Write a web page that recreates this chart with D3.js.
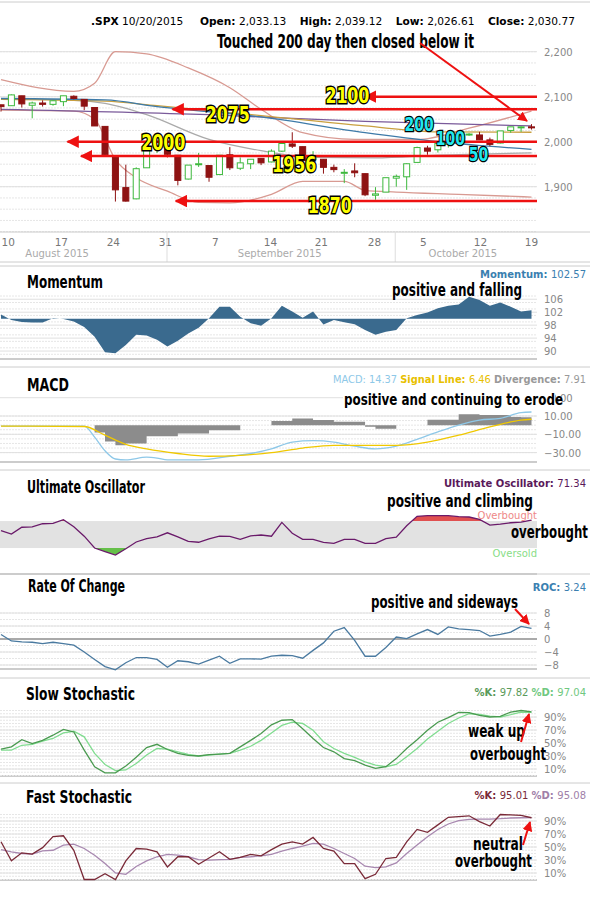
<!DOCTYPE html>
<html><head><meta charset="utf-8">
<script src="https://cdn.jsdelivr.net/npm/d3@7"></script>
<style>
body{margin:0;background:#fff}
text{font-family:"DejaVu Sans",sans-serif}
.big{font-family:"Liberation Sans Narrow","DejaVu Sans Condensed",sans-serif;font-weight:bold}
</style></head>
<body><svg id="chart" width="590" height="900"></svg>
<script>
// ---- data (trading days, index 0 = Aug 7 2015 ... 51 = Oct 20 2015) ----
let opens  = [2082,2080,2102,2081,2086,2083,2089,2101,2094,2076,2034,1965,1898,1873,1942,1987,1986,1970,1917,1950,1947,1927,1971,1941,1951,1963,1955,1979,1995,1989,1960,1961,1943,1932,1935,1929,1881,1888,1919,1922,1954,1986,1982,1994,2014,2015,2015,2004,1997,2025,2031,2033];
let highs  = [2082,2105,2102,2089,2092,2092,2102,2103,2094,2076,2034,1965,1949,1943,1989,1993,1987,1970,1948,1975,1947,1970,1988,1965,1961,1963,1983,1997,2021,1989,1979,1961,1949,1939,1952,1929,1899,1920,1927,1952,1989,1991,1999,2016,2020,2019,2022,2009,2024,2033,2034,2039];
let lows   = [2067,2080,2076,2052,2078,2080,2079,2094,2070,2035,1970,1867,1867,1872,1942,1975,1965,1903,1916,1944,1911,1927,1937,1937,1939,1948,1954,1977,1986,1953,1955,1929,1932,1908,1921,1879,1871,1888,1900,1893,1954,1971,1976,1987,2007,2013,2004,1990,1996,2020,2022,2027];
let closes = [2078,2104,2084,2086,2083,2091,2102,2096,2079,2035,1971,1893,1868,1940,1988,1989,1972,1914,1948,1951,1921,1970,1942,1953,1961,1953,1979,1996,1990,1958,1966,1943,1938,1932,1931,1882,1884,1920,1923,1951,1987,1979,1996,2014,2015,2017,2004,1994,2024,2033,2033,2031];

// overlays: [day index, value]
let bbUpper = [[0,2138],[7,2112],[9,2130],[11,2200],[14,2195],[18,2164],[22,2120],[25,2072],[29,2020],[34,2005],[40,2005],[45,2030],[51,2068]];
let bbLower = [[0,2070],[7,2068],[9,2050],[11,1960],[13,1920],[16,1890],[19,1865],[22,1864],[26,1883],[29,1912],[33,1912],[35,1892],[38,1888],[44,1883],[51,1877]];
let sma20   = [[0,2095],[7,2092],[10,2085],[14,2060],[20,2005],[25,1980],[30,1965],[36,1964],[42,1970],[51,1975]];
let sma200  = [[0,2072],[20,2060],[35,2045],[51,2035]];
let sma100  = [[0,2094],[10,2090],[15,2080],[25,2058],[35,2035],[42,2022],[51,2021]];
let sma50   = [[0,2096],[10,2093],[15,2078],[25,2055],[35,2020],[42,2000],[51,1983]];

let levels      = [2100, 2072, 2000, 1968, 1868];
let levelLabels = ["2100","2075","2000","1956","1870"];
let levelStart  = [35, 16.5, 6.4, 7.7, 16.8];
let levelLabelAt = [[33.3,2103],[21.8,2062],[15.6,2000],[28.2,1950],[31.6,1860]];
let maLabels    = [["200",40.2,2040],["100",43.2,2008],["50",45.9,1973]];

let priceTicks = [2200, 2100, 2000, 1900];
let tickDays   = [0.7,5.8,10.8,15.8,20.6,25.9,30.8,35.9,40.6,46.1,51];
let tickLabels = ["10","17","24","31","7","14","21","28","5","12","19"];
let monthDays  = [5.4, 26.8, 44.4];
let monthLabels = ["August 2015","September 2015","October 2015"];
let monthSeps  = [15.96, 37.9];

let momentum = [101.3,99.6,99,98.8,98.8,100.1,99.9,99.1,97.4,94.4,89.6,89.3,91.9,95,94.8,93.5,91.4,93.2,95.4,97.2,100.1,103.7,103.7,100.6,98.6,97.8,100.1,104,102.2,100.3,102.2,98.2,99.6,98.9,98.3,96.5,95,96,96.5,100.1,101.1,101.9,103.2,104,104.4,106.8,105.8,104,105,103.7,102.2,102.57];
let macdLine = [[0,-1],[8,-1],[9,-13],[10,-28],[11,-37],[12,-38],[14,-35],[15,-36],[16,-38],[19,-38],[22,-34],[24,-31],[26,-26],[28,-18.5],[30,-17],[32,-18.5],[34,-23],[36,-26],[38,-23],[40,-15.5],[42,-7.4],[44,0],[46,5.5],[48,7.4],[50,13.7],[51,14.37]];
let signalLine = [[0,-1],[8,-1.5],[10,-11],[12,-21],[14,-26],[17,-31],[20,-34],[23,-33],[26,-30],[29,-25],[32,-22],[35,-22],[38,-22],[41,-18.5],[44,-11],[47,-2],[50,5.5],[51,6.46]];
let divergence = [[0,0],[8,0],[9,-8],[10,-18],[11,-22],[12,-20],[14,-12],[17,-9],[20,-5.5],[23,0],[26,4.4],[28,7.4],[30,5.5],[32,3.7],[35,-1.8],[36,-4],[38,0],[41,6],[44,12],[46,11],[49,9],[50,8.5],[51,7.91]];
let ultimate = [55.7,50.7,60.8,61.5,66,66.7,72,61.5,47.6,30,24.8,19.7,29,39,44,46.5,52.6,46.5,40,38.6,43.5,47.5,47.2,43,48,49.3,47.5,68,52,43,43,38.5,37,43,43,37,37,44,46,63,77,78,78,78,76.5,76,72.5,64,65.5,67.5,68.5,71.34];
let roc = [1.4,-0.6,-0.9,-1,-1.4,-1,-1.4,-1.9,-4,-6.3,-8.5,-9.5,-7.3,-5.7,-5.7,-6.3,-8.7,-6.7,-7,-7.7,-6.5,-5.3,-7.5,-6.1,-6.1,-6.2,-5.3,-5,-5.1,-5.9,-3.5,-1.2,2.4,3.5,-0.4,-5.3,-5.3,-2.6,0.6,0.1,1.6,2.9,1.4,3.7,3.1,2.9,2.6,0.9,1.4,2.1,3.9,3.24];
let slowK = [40.5,44,55,49,54,62,71,67,39,13.5,4,4,14.5,28,43,48,40,34,31,30,32,33,34,44,54,64.5,78,85,86,72,57,43,36.5,26,23,16,11,13.5,26,41.5,55,69.5,82,89,97,96.6,92.5,90,91,97.6,100,97.82];
let slowD = [39,39,46.5,48,53,57,65.5,68,59.5,34,17,7.5,8.5,18.5,31.5,41.5,40.5,36.5,32.5,30,31.5,33,34,39,45,54,65.5,77,82,80,69.5,52,41.5,34,28,21,16,13.5,17,29,41.5,56,68,80,88.5,95,94,91.5,90,93.5,97.6,97.04];
let fastK = [58,28.7,41,39,49,66,67.3,45,0,0,9,0,28.7,47.7,46.7,42.6,19.4,35,35,23.5,33,42.6,31,34,38.5,36.4,46,54.4,58,54.4,64.7,47.7,43.6,24.5,24.5,1.3,8,32.3,34,58,77,72.5,84,95.7,96.7,98,89,82.3,100,99.5,98.5,95.01];
let fastD = [46,42.6,40,39,44,45,53,54.4,47.7,37.4,24.5,10,8,20,28.7,35,38.5,37.4,35,30.7,29.7,30.7,31,34,35,36.4,38.5,43.6,47.7,51.3,55.5,54.4,47.7,40,32.3,20.4,18.4,19.4,25.6,40,53,65.8,77,85.4,90.5,92.6,93,93,93.6,94.6,95,95.08];

// ---- layout ----
const plotR = 537;
const svg = d3.select("#chart");
const x = d3.scaleLinear().domain([0, 51]).range([1, 531.5]);

function hline(y, x0, x1, color, w) {
    svg.append("line").attr("x1", x0).attr("x2", x1).attr("y1", y).attr("y2", y)
        .attr("stroke", color).attr("stroke-width", w || 1);
}
// condensed bold text squeezed to the width it has in the picture
function bigText(t, px, py, size, w, anchor) {
    let el = svg.append("text").attr("class", "big").attr("x", px).attr("y", py)
        .attr("font-size", size).attr("text-anchor", anchor || "start").text(t);
    if (w) el.attr("textLength", w).attr("lengthAdjust", "spacingAndGlyphs");
    return el;
}
function gridAndAxis(y, ticks, fmt, step) {
    let [lo, hi] = y.domain();
    d3.range(lo, hi + 0.001, step).forEach(v => {
        svg.append("line").attr("x1", 0).attr("x2", plotR).attr("y1", y(v)).attr("y2", y(v))
            .attr("stroke", "#e6e6e6").attr("stroke-dasharray", "2,1");
    });
    ticks.forEach(v => {
        hline(y(v), 0, plotR, "#e0e0e0");
        svg.append("text").attr("x", 544).attr("y", y(v) + 4).attr("font-size", 10)
            .attr("fill", "#888").text(fmt(v));
    });
}
function panelFrame(top, bottom) {
    hline(top, 0, 590, "#ccc");
    hline(bottom, 0, plotR, "#ccc", 2);
}
const defs = svg.append("defs");
defs.append("marker").attr("id", "ar").attr("viewBox", "0 0 10 10")
    .attr("refX", 9).attr("refY", 5).attr("markerWidth", 5).attr("markerHeight", 5)
    .attr("orient", "auto-start-reverse")
    .append("path").attr("d", "M0,0L10,5L0,10z").attr("fill", "#ee1111");

// ---- price panel ----
hline(2, 0, 590, "#ccc");
const yP = d3.scaleLinear().domain([1800, 2200]).range([231.7, 51.7]);
gridAndAxis(yP, priceTicks, d3.format(",d"), 25);

let hdr = svg.append("text").attr("x", 91).attr("y", 25).attr("font-size", 11)
    .attr("textLength", 484).attr("lengthAdjust", "spacingAndGlyphs").style("white-space", "pre");
[[".SPX", " 10/20/2015     "], ["Open:", " 2,033.13    "], ["High:", " 2,039.12    "],
 ["Low:", " 2,026.61    "], ["Close:", " 2,030.77"]].forEach(p => {
    hdr.append("tspan").attr("font-weight", "bold").text(p[0]);
    hdr.append("tspan").text(p[1]);
});

const lineXY = d3.line().x(d => x(d[0])).y(d => yP(d[1])).curve(d3.curveMonotoneX);
[[bbUpper, "#d89a92"], [bbLower, "#d89a92"], [sma20, "#aaaaaa"], [sma200, "#7a5a9a"], [sma100, "#c9a040"], [sma50, "#3d7aa8"]]
    .forEach(s => svg.append("path").attr("d", lineXY(s[0])).attr("fill", "none").attr("stroke", s[1]).attr("stroke-width", 1.3));

// candles
const bw = 6;
closes.forEach((c, i) => {
    let up = c >= opens[i];
    let col = up ? "#3cb83c" : "#8e1212";
    svg.append("line").attr("x1", x(i)).attr("x2", x(i)).attr("y1", yP(highs[i])).attr("y2", yP(lows[i])).attr("stroke", col);
    let top = yP(Math.max(c, opens[i])), bot = yP(Math.min(c, opens[i]));
    svg.append("rect").attr("x", x(i) - bw / 2).attr("y", top).attr("width", bw).attr("height", Math.max(1, bot - top))
        .attr("fill", up ? "#fff" : col).attr("stroke", col);
});

// support/resistance lines
levels.forEach((v, i) => {
    svg.append("line").attr("x1", plotR).attr("x2", x(levelStart[i])).attr("y1", yP(v)).attr("y2", yP(v))
        .attr("stroke", "#ee1111").attr("stroke-width", 2.5).attr("marker-end", "url(#ar)");
});
levelLabels.forEach((t, i) => {
    bigText(t, x(levelLabelAt[i][0]), yP(levelLabelAt[i][1]) + 8, 22, 44, "middle")
        .attr("fill", "#ffff00").attr("stroke", "#000").attr("stroke-width", 3).attr("paint-order", "stroke");
});
maLabels.forEach(m => {
    bigText(m[0], x(m[1]), yP(m[2]) + 7, 19, m[0].length * 9.7, "middle")
        .attr("fill", "#22e8f0").attr("stroke", "#000").attr("stroke-width", 2.5).attr("paint-order", "stroke");
});
bigText("Touched 200 day then closed below it", 217, 48, 19, 257);
svg.append("line").attr("x1", 420).attr("y1", 43).attr("x2", 527).attr("y2", 121)
    .attr("stroke", "#ee1111").attr("stroke-width", 2).attr("marker-end", "url(#ar)");

// date axis
hline(232, 0, 590, "#ccc");
tickDays.forEach((d, i) => svg.append("text").attr("x", x(d)).attr("y", 246).attr("text-anchor", "middle")
    .attr("font-size", 10.5).attr("fill", "#777").text(tickLabels[i]));
monthDays.forEach((d, i) => svg.append("text").attr("x", x(d)).attr("y", 257).attr("text-anchor", "middle")
    .attr("font-size", 10).attr("fill", "#aaa").text(monthLabels[i]));
monthSeps.forEach(d => svg.append("line").attr("x1", x(d)).attr("x2", x(d)).attr("y1", 232).attr("y2", 262).attr("stroke", "#ddd"));
hline(262, 0, 590, "#ccc");

// ---- indicator panels ----
function valueLabel(parts, yy, w) {
    let t = svg.append("text").attr("x", 586).attr("y", yy).attr("font-size", 10).attr("text-anchor", "end");
    if (w) t.attr("textLength", w).attr("lengthAdjust", "spacingAndGlyphs");
    parts.forEach(p => t.append("tspan").attr("fill", p[1]).attr("font-weight", p[2] ? "bold" : "normal").text(p[0]));
}
const idx = (d, i) => x(i);

// Momentum
panelFrame(266, 359);
const yM = d3.scaleLinear().domain([89, 107]).range([354.3, 296]);
gridAndAxis(yM, [106, 102, 98, 94, 90], d3.format("d"), 2);
svg.append("path").datum(momentum)
    .attr("d", d3.area().x(idx).y0(yM(100)).y1(d => yM(d)))
    .attr("fill", "#3a6a8e");
bigText("Momentum", 27, 288, 18, 76);
valueLabel([["Momentum: ", "#3a80b0", true], ["102.57", "#3a80b0"]], 278);
bigText("positive and falling", 392, 296, 17, 130);

// MACD
panelFrame(367, 462);
const yC = d3.scaleLinear().domain([-30, 10]).range([452.6, 416]);
gridAndAxis(yC, [30, 10, -10, -30], d3.format(".2f"), 5);
const kx = d => x(d[0]);
svg.append("path").attr("d", d3.area().x(kx).y0(yC(0)).y1(d => yC(d[1])).curve(d3.curveStepAfter)(divergence))
    .attr("fill", "#8c8c8c");
svg.append("path").attr("d", d3.line().x(kx).y(d => yC(d[1])).curve(d3.curveMonotoneX)(macdLine))
    .attr("fill", "none").attr("stroke", "#8ec8e8").attr("stroke-width", 1.3);
svg.append("path").attr("d", d3.line().x(kx).y(d => yC(d[1])).curve(d3.curveMonotoneX)(signalLine))
    .attr("fill", "none").attr("stroke", "#f0c800").attr("stroke-width", 1.3);
bigText("MACD", 27, 391, 18, 42);
valueLabel([["MACD: 14.37  ", "#8ec8e8", false], ["Signal Line: ", "#e8c000", true], ["6.46  ", "#e8c000"], ["Divergence: ", "#999", true], ["7.91", "#999"]], 383, 253);
svg.append("rect").attr("x", 343).attr("y", 391).attr("width", 212).attr("height", 17).attr("fill", "#fff");
bigText("positive and continuing to erode", 344, 405, 16.5, 219);

// Ultimate Oscillator
panelFrame(470, 574);
const yU = d3.scaleLinear().domain([0, 100]).range([568.3, 500.8]);
svg.append("rect").attr("x", 0).attr("y", yU(70)).attr("width", plotR).attr("height", yU(30) - yU(70)).attr("fill", "#e2e2e2");
defs.append("clipPath").attr("id", "ob").append("rect").attr("x", 0).attr("y", 0).attr("width", plotR).attr("height", yU(70));
defs.append("clipPath").attr("id", "os").append("rect").attr("x", 0).attr("y", yU(30)).attr("width", plotR).attr("height", 100);
svg.append("path").datum(ultimate).attr("clip-path", "url(#ob)")
    .attr("d", d3.area().x(idx).y0(yU(70)).y1(d => yU(d))).attr("fill", "#e05050");
svg.append("path").datum(ultimate).attr("clip-path", "url(#os)")
    .attr("d", d3.area().x(idx).y0(yU(30)).y1(d => yU(d))).attr("fill", "#66c04a");
svg.append("path").datum(ultimate).attr("d", d3.line().x(idx).y(d => yU(d)))
    .attr("fill", "none").attr("stroke", "#6a1a6a").attr("stroke-width", 1.3);
bigText("Ultimate Oscillator", 27, 493, 18, 118);
valueLabel([["Ultimate Oscillator: ", "#5a1a5a", true], ["71.34", "#5a1a5a"]], 487);
bigText("positive and climbing", 387, 507, 17, 146);
svg.append("text").attr("x", 537).attr("y", 519).attr("text-anchor", "end").attr("font-size", 10).attr("fill", "#e88").text("Overbought");
svg.append("text").attr("x", 537).attr("y", 557).attr("text-anchor", "end").attr("font-size", 10).attr("fill", "#8d8").text("Oversold");
bigText("overbought", 511, 538, 18, 77);

// Rate of change
panelFrame(574, 669);
const yR = d3.scaleLinear().domain([-8, 8]).range([665, 613]);
gridAndAxis(yR, [8, 4, 0, -4, -8], d3.format("d"), 2);
hline(yR(0), 0, plotR, "#aaa", 2);
svg.append("path").datum(roc).attr("d", d3.line().x(idx).y(d => yR(d)))
    .attr("fill", "none").attr("stroke", "#4a7aa0").attr("stroke-width", 1.3);
bigText("Rate Of Change", 28, 592, 18, 97);
valueLabel([["ROC: ", "#3a80b0", true], ["3.24", "#3a80b0"]], 591);
bigText("positive and sideways", 371, 608, 17, 147);
svg.append("line").attr("x1", 515).attr("y1", 609).attr("x2", 529).attr("y2", 624)
    .attr("stroke", "#ee1111").attr("stroke-width", 2).attr("marker-end", "url(#ar)");

// stochastics
const pct = v => v + "%";
function stochPanel(top, bottom, y90, y10, k, d, kCol, dCol, title, titleW, titleY, vals, notes, arrow) {
    panelFrame(top, bottom);
    const per = (y10 - y90) / 80;
    const ys = d3.scaleLinear().domain([0, 100]).range([y10 + 10 * per, y90 - 10 * per]);
    gridAndAxis(ys, [90, 70, 50, 30, 10], pct, 5);
    [[d, dCol], [k, kCol]].forEach(s => svg.append("path").datum(s[0]).attr("d", d3.line().x(idx).y(v => ys(v)))
        .attr("fill", "none").attr("stroke", s[1]).attr("stroke-width", 1.3));
    bigText(title, 26, titleY, 18, titleW);
    valueLabel(vals, titleY - 4);
    notes.forEach(n => bigText(n[0], n[1], n[2], 18, n[3]));
    svg.append("line").attr("x1", arrow[0]).attr("y1", arrow[1]).attr("x2", arrow[2]).attr("y2", arrow[3])
        .attr("stroke", "#ee1111").attr("stroke-width", 2).attr("marker-end", "url(#ar)");
}
stochPanel(678, 776, 717, 769, slowK, slowD, "#4a9a50", "#80dc90", "Slow Stochastic", 109, 700,
    [["%K: ", "#5a9a5a", true], ["97.82  ", "#5a9a5a"], ["%D: ", "#70c880", true], ["97.04", "#70c880"]],
    [["weak up", 468, 737, 57], ["overbought", 470, 760, 76]], [521, 742, 529, 714]);
stochPanel(783, 880, 821, 873, fastK, fastD, "#7a2a38", "#a888b0", "Fast Stochastic", 106, 803,
    [["%K: ", "#7a2a38", true], ["95.01  ", "#7a2a38"], ["%D: ", "#a080a8", true], ["95.08", "#a080a8"]],
    [["neutral", 473, 850, 50], ["overbought", 455, 867, 77]], [523, 845, 530, 822]);
</script>
</body></html>
